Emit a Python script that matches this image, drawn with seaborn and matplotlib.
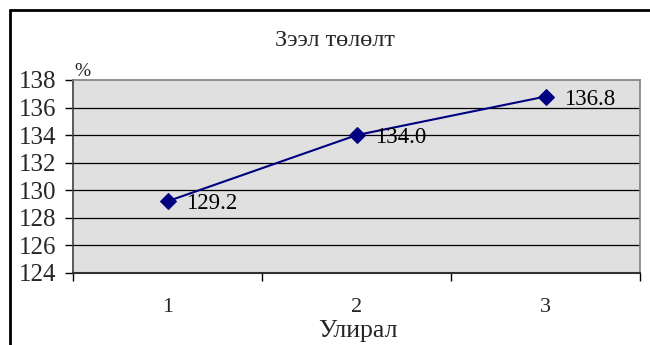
import matplotlib
matplotlib.use("Agg")
import matplotlib.pyplot as plt
from matplotlib.lines import Line2D
from matplotlib.ticker import FixedLocator
import seaborn as sns
import pandas as pd

# Loan repayment by quarter, percent
quarters = ["1", "2", "3"]
repayment = [129.2, 134.0, 136.8]
y_ticks = [124, 126, 128, 130, 132, 134, 136, 138]

sns.set_theme(style="white")
plt.rcParams["font.family"] = ["Liberation Serif", "DejaVu Serif"]

df = pd.DataFrame({"pos": range(len(quarters)), "value": repayment})

fig = plt.figure(figsize=(6.5, 3.45), dpi=100)
ax = fig.add_axes([73 / 650, 72 / 345, 567 / 650, 193 / 345])
ax.set_facecolor("#e0e0e0")

sns.lineplot(data=df, x="pos", y="value", ax=ax, color="#000080",
             linewidth=1.5, marker="D", markersize=8.5,
             markeredgecolor="#000080", markerfacecolor="#000080", zorder=3)

for x, v in zip(df["pos"], repayment):
    ax.annotate(f"{v:.1f}", (x, v), xytext=(13, 0), textcoords="offset points",
                ha="left", va="center_baseline", fontsize=16.5, color="black", zorder=4)

ax.set_xlim(-0.5, len(quarters) - 0.5)
ax.set_ylim(y_ticks[0], y_ticks[-1])
ax.set_yticks(y_ticks)
ax.set_yticklabels([str(t) for t in y_ticks], fontsize=18)
ax.set_xticks(range(len(quarters)))
ax.set_xticklabels(quarters, fontsize=16)
ax.xaxis.set_minor_locator(FixedLocator([i - 0.5 for i in range(len(quarters) + 1)]))
ax.tick_params(axis="x", which="major", length=0, pad=18)
ax.tick_params(axis="x", which="minor", length=6, width=1, color="black", direction="out", bottom=True)
ax.tick_params(axis="y", which="major", length=6, width=1, color="black", direction="out", left=True, pad=6)

for t in y_ticks[1:-1]:
    ax.axhline(t, color="black", linewidth=0.9, zorder=1)

ax.grid(False)
for side in ("top", "right"):
    ax.spines[side].set_color("#808080")
    ax.spines[side].set_linewidth(1.2)
ax.spines["left"].set_color("#404040")
ax.spines["left"].set_linewidth(1.2)
ax.spines["bottom"].set_color("#303030")
ax.spines["bottom"].set_linewidth(1.5)

ax.set_xlabel("Улирал", fontsize=18.5)
ax.xaxis.set_label_coords((358 - 73) / 567, -(331 - 273) / 193)
ax.xaxis.label.set_va("center")
ax.set_ylabel("")

fig.text(335 / 650, 1 - 40 / 345, "Зээл төлөлт", ha="center", va="center", fontsize=17.5)
fig.text(82 / 650, 1 - 71 / 345, "%", ha="center", va="center", fontsize=14)

# Chart area frame (left and top edges)
fig.add_artist(Line2D([10 / 650, 10 / 650], [0, 1 - 10 / 345], transform=fig.transFigure,
                      color="black", linewidth=2))
fig.add_artist(Line2D([10 / 650, 1], [1 - 10 / 345, 1 - 10 / 345], transform=fig.transFigure,
                      color="black", linewidth=2))

fig.savefig("out.png", dpi=100)
